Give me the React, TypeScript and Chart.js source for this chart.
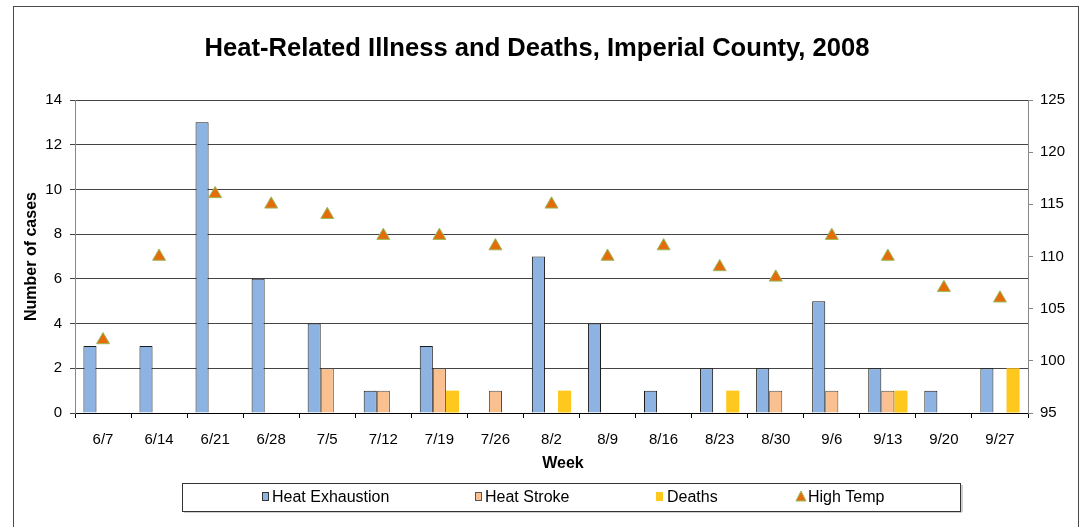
import React, { useEffect, useRef } from 'react';
import { Chart, registerables } from 'chart.js';

Chart.register(...registerables);

const titleText = 'Heat-Related Illness and Deaths, Imperial County, 2008';
const weeks = ['6/7', '6/14', '6/21', '6/28', '7/5', '7/12', '7/19', '7/26', '8/2', '8/9', '8/16', '8/23', '8/30', '9/6', '9/13', '9/20', '9/27'];
const heatExhaustion = [3, 3, 13, 6, 4, 1, 3, 0, 7, 4, 1, 2, 2, 5, 2, 1, 2];
const heatStroke = [0, 0, 0, 0, 2, 1, 2, 1, 0, 0, 0, 0, 1, 1, 1, 0, 0];
const deaths = [0, 0, 0, 0, 0, 0, 1, 0, 1, 0, 0, 1, 0, 0, 1, 0, 2];
const highTemp = [102, 110, 116, 115, 114, 112, 112, 111, 115, 110, 111, 109, 108, 112, 110, 107, 106];
const seriesNames = ['Heat Exhaustion', 'Heat Stroke', 'Deaths', 'High Temp'];
const casesAxis = { min: 0, max: 14, step: 2, title: 'Number of cases' };
const tempAxis = { min: 95, max: 125, step: 5 };
const xTitle = 'Week';

const COLORS = {
  exhaustion: '#8DB3E2',
  stroke: '#FAC090',
  deaths: '#FFC81E',
  tempFill: '#E46C0A',
  tempBorder: '#9BBB59',
};

const FONT = "'Liberation Sans', Arial, Helvetica, sans-serif";

const framePlugin = {
  id: 'frame',
  beforeDraw(chart: any) {
    const ctx = chart.ctx;
    ctx.save();
    ctx.fillStyle = '#fff';
    ctx.fillRect(0, 0, chart.width, chart.height);
    ctx.strokeStyle = '#4a4a4a';
    ctx.lineWidth = 1;
    ctx.strokeRect(13.5, 6.5, 1065, 560);
    ctx.restore();
  },
  afterDraw(chart: any) {
    const ctx = chart.ctx;
    ctx.save();
    // Title
    ctx.fillStyle = '#000';
    ctx.font = `bold 26px ${FONT}`;
    ctx.textAlign = 'center';
    ctx.textBaseline = 'alphabetic';
    ctx.fillText(titleText, 537, 56, 665);

    // X axis title
    ctx.font = `bold 16px ${FONT}`;
    ctx.textBaseline = 'middle';
    ctx.fillText(xTitle, 563, 464);

    // Legend box
    ctx.fillStyle = '#d0d0d0';
    ctx.fillRect(184, 511, 778, 2);
    ctx.fillRect(961, 485, 2, 27);
    ctx.strokeStyle = '#333';
    ctx.lineWidth = 1;
    ctx.strokeRect(182.5, 483.5, 778, 28);

    const cy = 497;
    ctx.font = `16px ${FONT}`;
    ctx.textAlign = 'left';
    ctx.textBaseline = 'middle';
    const items = [
      { x: 262, tx: 272, color: COLORS.exhaustion, kind: 'rect', border: '#333' },
      { x: 475, tx: 485, color: COLORS.stroke, kind: 'rect', border: '#555' },
      { x: 656, tx: 667, color: COLORS.deaths, kind: 'rect', border: null },
      { x: 797, tx: 808, color: COLORS.tempFill, kind: 'tri', border: COLORS.tempBorder },
    ];
    items.forEach((it, i) => {
      if (it.kind === 'rect') {
        ctx.fillStyle = it.color;
        ctx.fillRect(it.x, cy - 5, 7, 9);
        if (it.border) {
          ctx.strokeStyle = it.border;
          ctx.strokeRect(it.x + 0.5, cy - 4.5, 6, 8);
        }
      } else {
        ctx.beginPath();
        ctx.moveTo(it.x + 4, cy - 6);
        ctx.lineTo(it.x + 9, cy + 4);
        ctx.lineTo(it.x - 1, cy + 4);
        ctx.closePath();
        ctx.fillStyle = it.color;
        ctx.fill();
        ctx.strokeStyle = it.border as string;
        ctx.stroke();
      }
      ctx.fillStyle = '#000';
      ctx.fillText(seriesNames[i], it.tx, cy + 1);
    });
    ctx.restore();
  },
};

export default function App() {
  const ref = useRef<HTMLCanvasElement | null>(null);

  useEffect(() => {
    if (!ref.current) return;
    const barCommon = {
      categoryPercentage: 0.7,
      barPercentage: 1,
      yAxisID: 'y',
      order: 1,
    };
    const chart = new Chart(ref.current, {
      type: 'bar',
      data: {
        labels: weeks,
        datasets: [
          {
            ...barCommon,
            label: seriesNames[0],
            data: heatExhaustion,
            backgroundColor: COLORS.exhaustion,
            borderColor: '#1a1a1a',
            borderWidth: 1,
          },
          {
            ...barCommon,
            label: seriesNames[1],
            data: heatStroke,
            backgroundColor: COLORS.stroke,
            borderColor: '#4d4d4d',
            borderWidth: 1,
          },
          {
            ...barCommon,
            label: seriesNames[2],
            data: deaths,
            backgroundColor: COLORS.deaths,
            borderWidth: 0,
          },
          {
            type: 'line',
            label: seriesNames[3],
            data: highTemp,
            yAxisID: 'y1',
            showLine: false,
            order: 0,
            pointStyle: 'triangle',
            pointRadius: 7.5,
            pointBackgroundColor: COLORS.tempFill,
            pointBorderColor: COLORS.tempBorder,
            pointBorderWidth: 1,
          } as any,
        ],
      },
      options: {
        animation: false,
        responsive: false,
        maintainAspectRatio: false,
        layout: { padding: { left: 13, right: 0, top: 100, bottom: 54 } },
        plugins: {
          legend: { display: false },
          title: { display: false },
          tooltip: { enabled: false },
        },
        scales: {
          x: {
            offset: true,
            afterFit: (s: any) => { s.height = 60; },
            grid: { display: true, offset: true, drawOnChartArea: false, tickLength: 5, color: '#000' },
            border: { display: true, color: '#000' },
            ticks: { color: '#000', font: { family: FONT, size: 15 }, padding: 13, maxRotation: 0, autoSkip: false },
          },
          y: {
            position: 'left',
            min: casesAxis.min,
            max: casesAxis.max,
            afterFit: (s: any) => { s.width = 62; },
            ticks: { stepSize: casesAxis.step, color: '#000', font: { family: FONT, size: 15 }, padding: 8 },
            grid: { color: '#444', tickLength: 5, drawTicks: true },
            border: { display: true, color: '#888' },
            title: { display: true, text: casesAxis.title, color: '#000', font: { family: FONT, size: 16, weight: 'bold' }, padding: { top: 9, bottom: 0 } },
          },
          y1: {
            position: 'right',
            min: tempAxis.min,
            max: tempAxis.max,
            afterFit: (s: any) => { s.width = 55; },
            ticks: { stepSize: tempAxis.step, color: '#000', font: { family: FONT, size: 15 }, padding: 7 },
            grid: { drawOnChartArea: false, tickLength: 5, color: '#888' },
            border: { display: true, color: '#888' },
          },
        },
      } as any,
      plugins: [framePlugin],
    });
    return () => chart.destroy();
  }, []);

  return (
    <div style={{ position: 'fixed', left: 0, top: 0, width: 1083, height: 527, background: '#fff' }}>
      <canvas ref={ref} width={1083} height={527} style={{ display: 'block', width: 1083, height: 527 }} />
    </div>
  );
}
